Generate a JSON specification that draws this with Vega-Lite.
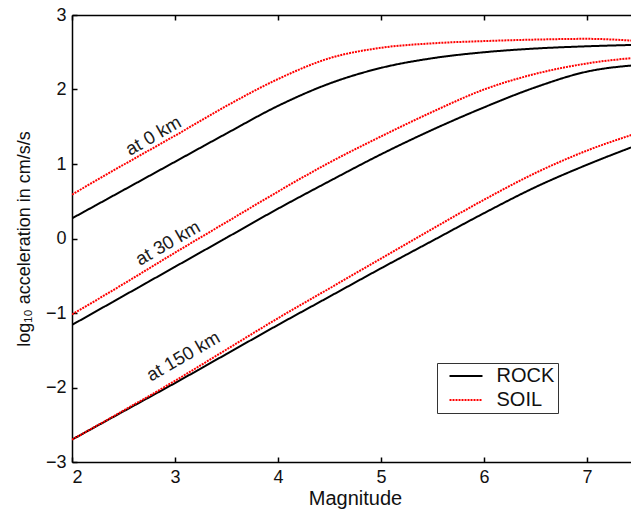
{
  "$schema": "https://vega.github.io/schema/vega-lite/v6.json",
  "width": 559,
  "height": 447,
  "autosize": {"type": "none"},
  "padding": {"left": 72, "top": 15, "right": 0, "bottom": 49},
  "background": "white",
  "config": {
    "font": "Liberation Sans",
    "view": {"stroke": null},
    "axis": {
      "grid": false,
      "domainColor": "black",
      "domainWidth": 1.5,
      "tickColor": "black",
      "tickWidth": 1.5,
      "tickSize": -5,
      "labelFontSize": 18,
      "labelColor": "#111111",
      "labelFont": "Liberation Sans",
      "titleFont": "Liberation Sans",
      "titleFontSize": 20,
      "titleFontWeight": "normal",
      "titleColor": "#111111"
    }
  },
  "resolve": {"axis": {"x": "independent"}},
  "datasets": {
    "curves": [
      {"m": 2, "v": 0.27, "dist": "0", "type": "ROCK"},
      {"m": 2.5, "v": 0.65, "dist": "0", "type": "ROCK"},
      {"m": 3, "v": 1.03, "dist": "0", "type": "ROCK"},
      {"m": 3.5, "v": 1.41, "dist": "0", "type": "ROCK"},
      {"m": 4, "v": 1.78, "dist": "0", "type": "ROCK"},
      {"m": 4.5, "v": 2.08, "dist": "0", "type": "ROCK"},
      {"m": 5, "v": 2.29, "dist": "0", "type": "ROCK"},
      {"m": 5.5, "v": 2.42, "dist": "0", "type": "ROCK"},
      {"m": 6, "v": 2.5, "dist": "0", "type": "ROCK"},
      {"m": 6.5, "v": 2.55, "dist": "0", "type": "ROCK"},
      {"m": 7, "v": 2.58, "dist": "0", "type": "ROCK"},
      {"m": 7.5, "v": 2.6, "dist": "0", "type": "ROCK"},
      {"m": 2, "v": 0.59, "dist": "0", "type": "SOIL"},
      {"m": 2.5, "v": 0.99, "dist": "0", "type": "SOIL"},
      {"m": 3, "v": 1.38, "dist": "0", "type": "SOIL"},
      {"m": 3.5, "v": 1.78, "dist": "0", "type": "SOIL"},
      {"m": 4, "v": 2.14, "dist": "0", "type": "SOIL"},
      {"m": 4.5, "v": 2.42, "dist": "0", "type": "SOIL"},
      {"m": 5, "v": 2.56, "dist": "0", "type": "SOIL"},
      {"m": 5.5, "v": 2.62, "dist": "0", "type": "SOIL"},
      {"m": 6, "v": 2.65, "dist": "0", "type": "SOIL"},
      {"m": 6.5, "v": 2.67, "dist": "0", "type": "SOIL"},
      {"m": 7, "v": 2.68, "dist": "0", "type": "SOIL"},
      {"m": 7.5, "v": 2.65, "dist": "0", "type": "SOIL"},
      {"m": 2, "v": -1.16, "dist": "30", "type": "ROCK"},
      {"m": 2.5, "v": -0.77, "dist": "30", "type": "ROCK"},
      {"m": 3, "v": -0.38, "dist": "30", "type": "ROCK"},
      {"m": 3.5, "v": 0.01, "dist": "30", "type": "ROCK"},
      {"m": 4, "v": 0.4, "dist": "30", "type": "ROCK"},
      {"m": 4.5, "v": 0.77, "dist": "30", "type": "ROCK"},
      {"m": 5, "v": 1.13, "dist": "30", "type": "ROCK"},
      {"m": 5.5, "v": 1.46, "dist": "30", "type": "ROCK"},
      {"m": 6, "v": 1.76, "dist": "30", "type": "ROCK"},
      {"m": 6.5, "v": 2.03, "dist": "30", "type": "ROCK"},
      {"m": 7, "v": 2.24, "dist": "30", "type": "ROCK"},
      {"m": 7.5, "v": 2.33, "dist": "30", "type": "ROCK"},
      {"m": 2, "v": -1.02, "dist": "30", "type": "SOIL"},
      {"m": 2.5, "v": -0.61, "dist": "30", "type": "SOIL"},
      {"m": 3, "v": -0.19, "dist": "30", "type": "SOIL"},
      {"m": 3.5, "v": 0.22, "dist": "30", "type": "SOIL"},
      {"m": 4, "v": 0.63, "dist": "30", "type": "SOIL"},
      {"m": 4.5, "v": 1.02, "dist": "30", "type": "SOIL"},
      {"m": 5, "v": 1.37, "dist": "30", "type": "SOIL"},
      {"m": 5.5, "v": 1.7, "dist": "30", "type": "SOIL"},
      {"m": 6, "v": 2.0, "dist": "30", "type": "SOIL"},
      {"m": 6.5, "v": 2.21, "dist": "30", "type": "SOIL"},
      {"m": 7, "v": 2.35, "dist": "30", "type": "SOIL"},
      {"m": 7.5, "v": 2.43, "dist": "30", "type": "SOIL"},
      {"m": 2, "v": -2.7, "dist": "150", "type": "ROCK"},
      {"m": 2.5, "v": -2.32, "dist": "150", "type": "ROCK"},
      {"m": 3, "v": -1.94, "dist": "150", "type": "ROCK"},
      {"m": 3.5, "v": -1.55, "dist": "150", "type": "ROCK"},
      {"m": 4, "v": -1.16, "dist": "150", "type": "ROCK"},
      {"m": 4.5, "v": -0.78, "dist": "150", "type": "ROCK"},
      {"m": 5, "v": -0.4, "dist": "150", "type": "ROCK"},
      {"m": 5.5, "v": -0.03, "dist": "150", "type": "ROCK"},
      {"m": 6, "v": 0.34, "dist": "150", "type": "ROCK"},
      {"m": 6.5, "v": 0.69, "dist": "150", "type": "ROCK"},
      {"m": 7, "v": 0.99, "dist": "150", "type": "ROCK"},
      {"m": 7.5, "v": 1.26, "dist": "150", "type": "ROCK"},
      {"m": 2, "v": -2.7, "dist": "150", "type": "SOIL"},
      {"m": 2.5, "v": -2.31, "dist": "150", "type": "SOIL"},
      {"m": 3, "v": -1.91, "dist": "150", "type": "SOIL"},
      {"m": 3.5, "v": -1.49, "dist": "150", "type": "SOIL"},
      {"m": 4, "v": -1.07, "dist": "150", "type": "SOIL"},
      {"m": 4.5, "v": -0.67, "dist": "150", "type": "SOIL"},
      {"m": 5, "v": -0.27, "dist": "150", "type": "SOIL"},
      {"m": 5.5, "v": 0.13, "dist": "150", "type": "SOIL"},
      {"m": 6, "v": 0.52, "dist": "150", "type": "SOIL"},
      {"m": 6.5, "v": 0.88, "dist": "150", "type": "SOIL"},
      {"m": 7, "v": 1.18, "dist": "150", "type": "SOIL"},
      {"m": 7.5, "v": 1.42, "dist": "150", "type": "SOIL"}
    ],
    "labels": [
      {"m": 2.79, "v": 1.38, "label": "at 0 km"},
      {"m": 2.93, "v": -0.06, "label": "at 30 km"},
      {"m": 3.08, "v": -1.58, "label": "at 150 km"}
    ]
  },
  "layer": [
    {
      "data": {"name": "curves"},
      "mark": {"type": "line", "clip": true, "strokeWidth": 2, "interpolate": "monotone"},
      "encoding": {
        "x": {
          "field": "m", "type": "quantitative",
          "scale": {"domain": [2, 7.427], "nice": false, "zero": false},
          "axis": {"orient": "bottom", "title": "Magnitude", "values": [2, 3, 4, 5, 6, 7], "format": "d", "labelPadding": 11, "titlePadding": 2, "titleX": 283}
        },
        "y": {
          "field": "v", "type": "quantitative",
          "scale": {"domain": [-3, 3], "nice": false, "zero": false},
          "axis": {"title": "log₁₀ acceleration in cm/s/s", "titleFontSize": 18, "values": [-3, -2, -1, 0, 1, 2, 3], "format": "d", "labelPadding": 11, "titlePadding": 12}
        },
        "detail": {"field": "dist"},
        "color": {
          "field": "type", "type": "nominal",
          "scale": {"domain": ["ROCK", "SOIL"], "range": ["black", "#ff0000"]},
          "legend": {
            "title": null, "orient": "none", "legendX": 365, "legendY": 348,
            "strokeColor": "#333333", "fillColor": "white", "padding": 3,
            "labelFontSize": 20, "labelColor": "#111111", "labelFont": "Liberation Sans",
            "labelExpr": "datum.label + '\u00a0\u00a0'",
            "symbolType": "M -2 0 L 2 0", "symbolSize": 272, "symbolStrokeWidth": 2,
            "symbolOffset": 16, "labelOffset": 20.5, "rowPadding": 4
          }
        },
        "strokeDash": {
          "field": "type", "type": "nominal",
          "scale": {"domain": ["ROCK", "SOIL"], "range": [[1, 0], [2, 1]]},
          "legend": {
            "title": null, "orient": "none", "legendX": 365, "legendY": 348,
            "strokeColor": "#333333", "fillColor": "white", "padding": 3,
            "labelFontSize": 20, "labelColor": "#111111", "labelFont": "Liberation Sans",
            "labelExpr": "datum.label + '\u00a0\u00a0'",
            "symbolType": "M -2 0 L 2 0", "symbolSize": 272, "symbolStrokeWidth": 2,
            "symbolOffset": 16, "labelOffset": 20.5, "rowPadding": 4
          }
        }
      }
    },
    {
      "data": {"name": "labels"},
      "mark": {"type": "text", "angle": -30, "fontSize": 18.5, "font": "Liberation Sans", "color": "#1a1a1a", "align": "center", "baseline": "middle"},
      "encoding": {
        "x": {"field": "m", "type": "quantitative", "axis": {"orient": "top", "labels": false, "title": null, "values": [2, 3, 4, 5, 6, 7]}},
        "y": {"field": "v", "type": "quantitative"},
        "text": {"field": "label"}
      }
    }
  ]
}
